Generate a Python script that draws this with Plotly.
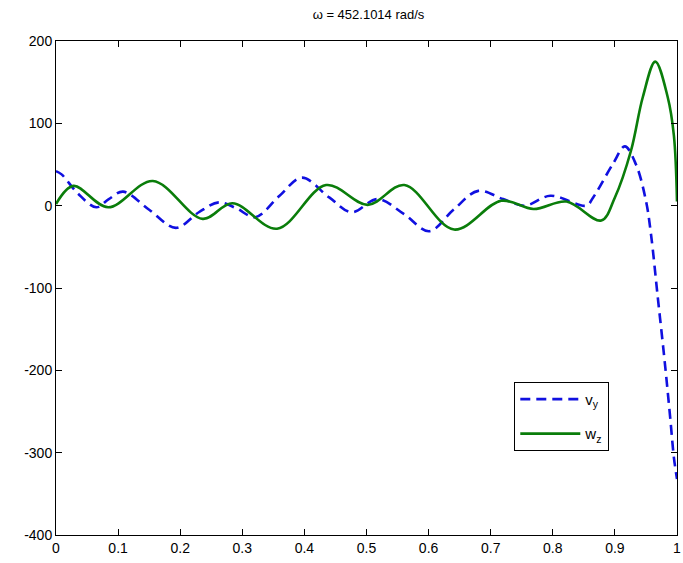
import plotly.graph_objects as go

# Mode shape samples along the normalised beam length
x_vy = [0.0, 0.009, 0.035, 0.065, 0.085, 0.108, 0.15, 0.193, 0.23, 0.262, 0.29, 0.321,
        0.36, 0.396, 0.44, 0.476, 0.518, 0.56, 0.601, 0.64, 0.68, 0.72, 0.755, 0.796,
        0.854, 0.865, 0.897, 0.916, 0.934, 0.95, 0.958, 0.969, 0.98, 0.989, 0.995, 1.0]
vy = [42, 38, 15, -2, 8, 17, -5, -27, -8, 4, -3, -14,
      12, 34, 10, -8, 8, -10, -31, -5, 18, 8, 0, 12,
      0, 10, 51, 72, 50, 6, -34, -111, -188, -257, -306, -332]

x_wz = [0.0, 0.028, 0.084, 0.156, 0.236, 0.284, 0.356, 0.435, 0.502, 0.561, 0.641,
        0.717, 0.769, 0.822, 0.878, 0.9, 0.926, 0.945, 0.965, 0.985, 0.995, 1.0]
wz = [2, 24, -2, 30, -16, 3, -28, 25, 1, 25, -29,
      6, -4, 5, -18, 10, 67, 132, 175, 132, 85, 5]

x_ticks = [0, 0.1, 0.2, 0.3, 0.4, 0.5, 0.6, 0.7, 0.8, 0.9, 1]
y_ticks = [-400, -300, -200, -100, 0, 100, 200]

fig = go.Figure()
fig.add_trace(go.Scatter(
    x=x_vy, y=vy, mode="lines", name="v<sub>y</sub>", legendgroup="vy",
    line=dict(color="#1010e0", width=2.6, dash="10px,6px", shape="spline", smoothing=1.0),
))
fig.add_trace(go.Scatter(
    x=x_wz, y=wz, mode="lines", name="w<sub>z</sub>", legendgroup="wz",
    line=dict(color="#0a7d0a", width=2.6, shape="spline", smoothing=1.0),
))

axis_common = dict(
    showgrid=False, zeroline=False, showline=True, linecolor="black", linewidth=1,
    mirror="ticks", ticks="inside", ticklen=6, tickcolor="black",
    ticklabeloverflow="allow",
    tickfont=dict(family="Liberation Sans", size=14, color="black"),
)

fig.update_layout(
    width=683, height=563,
    margin=dict(l=56, r=2, t=41, b=28),
    paper_bgcolor="white", plot_bgcolor="white",
    title=dict(text="ω = 452.1014 rad/s", x=(56 + 681) / 2 / 683, xanchor="center",
               y=1 - 14 / 563, yanchor="middle",
               font=dict(family="Liberation Sans", size=13, color="black")),
    xaxis=dict(range=[0, 1], tickvals=x_ticks, ticktext=[f"{t:g}" for t in x_ticks], **axis_common),
    yaxis=dict(range=[-400, 200], tickvals=y_ticks, ticktext=[str(t) for t in y_ticks], **axis_common),
    legend=dict(x=0.738, y=0.31, xanchor="left", yanchor="top",
                bgcolor="white", bordercolor="black", borderwidth=1,
                font=dict(family="Liberation Sans", size=15, color="black"),
                itemwidth=60, tracegroupgap=12),
    showlegend=True,
)

fig.write_html("out.html")
